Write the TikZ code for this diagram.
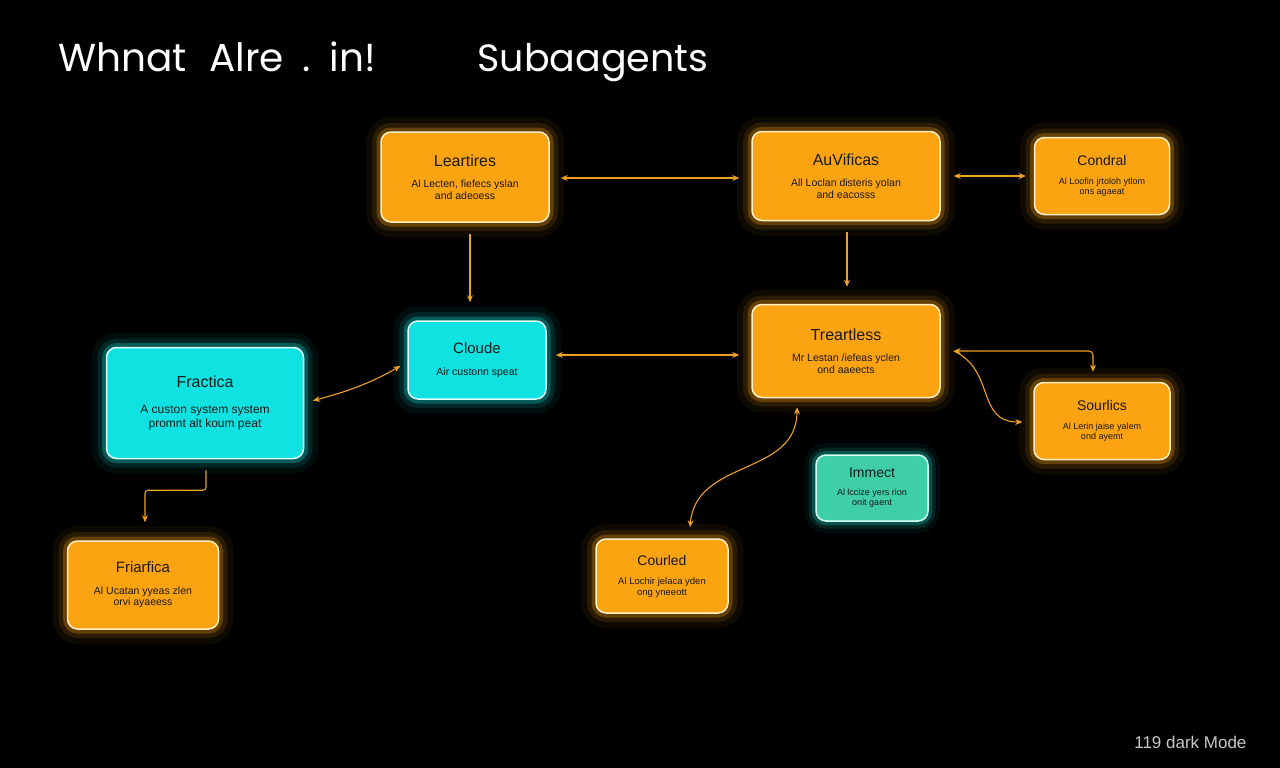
\documentclass[tikz,border=0pt]{standalone}
\usepackage{fontspec}
\setmainfont{Liberation Sans}
\newfontfamily\headfont{Poppins}
\usetikzlibrary{arrows.meta, positioning}

\definecolor{boxorange}{HTML}{FCA312}
\definecolor{rimorange}{HTML}{FFEFC6}
\definecolor{boxcyan}{HTML}{10E2E2}
\definecolor{rimcyan}{HTML}{E2FFFF}
\definecolor{boxteal}{HTML}{3ECFA8}
\definecolor{rimteal}{HTML}{D6FFF4}
\definecolor{linkorange}{HTML}{EFA020}
\definecolor{footgray}{HTML}{C8C8C8}

\tikzset{
  agent/.style={rounded corners=10pt, line width=1.5pt, align=center,
    text=black!90, inner sep=0pt},
  orangeagent/.style={agent, draw=rimorange, fill=boxorange,
    preaction={draw=boxorange, line width=30pt, opacity=0.06},
    preaction={draw=boxorange, line width=18pt, opacity=0.12},
    preaction={draw=boxorange, line width=9pt, opacity=0.28}},
  cyanagent/.style={agent, draw=rimcyan, fill=boxcyan,
    preaction={draw=boxcyan, line width=30pt, opacity=0.06},
    preaction={draw=boxcyan, line width=18pt, opacity=0.12},
    preaction={draw=boxcyan, line width=9pt, opacity=0.28}},
  tealagent/.style={agent, draw=rimteal, fill=boxteal,
    preaction={draw=boxcyan!70!boxteal, line width=24pt, opacity=0.06},
    preaction={draw=boxcyan!70!boxteal, line width=15pt, opacity=0.12},
    preaction={draw=boxcyan!70!boxteal, line width=8pt, opacity=0.26}},
  link/.style={draw=linkorange, line width=1.1pt,
    arrows={Stealth[length=7pt,width=6pt]-Stealth[length=7pt,width=6pt]}},
  linkto/.style={draw=linkorange, line width=1.1pt,
    -{Stealth[length=7pt,width=6pt]}}
}

% title line and description lines of a box
\newcommand{\agentname}[2]{{\fontsize{#1}{#1}\selectfont #2}}

\begin{document}
\begin{tikzpicture}[x=1pt, y=-1pt]
% black page
\fill[black] (0,0) rectangle (1280,768);
\useasboundingbox (0,0) rectangle (1280,768);

% heading
\node[anchor=base west, text=white, font=\headfont\fontsize{39}{41}\selectfont]
  (heading) at (55,72) {Whnat\hspace{12pt} Alre\hspace{8pt} .\hspace{5pt} in!};
\node[anchor=base west, text=white, font=\headfont\fontsize{38}{40}\selectfont]
  (headsub) at (474,72) {Subaagents};

% top row
\node[orangeagent, minimum width=168pt, minimum height=90pt,
  font=\fontsize{10.5}{11.5}\selectfont] (leartires) at (465,177)
  {\agentname{16}{Leartires}\\[10pt]Al Lecten, fiefecs yslan\\and adeoess};
\node[orangeagent, minimum width=188pt, minimum height=89pt,
  font=\fontsize{10.5}{11.5}\selectfont] (auvificas) at (846,176)
  {\agentname{16}{AuVificas}\\[10pt]All Loclan disteris yolan\\and eacosss};
\node[orangeagent, minimum width=135pt, minimum height=77pt,
  font=\fontsize{9}{10}\selectfont] (condral) at (1102,176)
  {\agentname{14}{Condral}\\[9pt]Al Loofin jrtoloh ytlom\\ons agaeat};

% middle row
\node[cyanagent, minimum width=138pt, minimum height=78pt,
  font=\fontsize{10.5}{11.5}\selectfont] (cloude) at (477,360)
  {\agentname{15}{Cloude}\\[10pt]Air custonn speat};
\node[cyanagent, minimum width=197pt, minimum height=111pt,
  font=\fontsize{12}{14}\selectfont] (fractica) at (205,403)
  {\agentname{16}{Fractica}\\[12pt]A custon system system\\promnt alt koum peat};
\node[orangeagent, minimum width=188pt, minimum height=93pt,
  font=\fontsize{10.5}{11.5}\selectfont] (treartless) at (846,351)
  {\agentname{16}{Treartless}\\[10pt]Mr Lestan /iefeas yclen\\ond aaeects};
\node[orangeagent, minimum width=136pt, minimum height=77pt,
  font=\fontsize{9}{10}\selectfont] (sourlics) at (1102,421)
  {\agentname{14}{Sourlics}\\[9pt]Al Lerin jaise yalem\\ond ayemt};

% bottom row
\node[tealagent, minimum width=112pt, minimum height=66pt,
  font=\fontsize{9}{10}\selectfont] (immect) at (872,488)
  {\agentname{14}{Immect}\\[8pt]Al lccize yers rion\\onit gaent};
\node[orangeagent, minimum width=132pt, minimum height=74pt,
  font=\fontsize{9.5}{10.5}\selectfont] (courled) at (662,576)
  {\agentname{14}{Courled}\\[9pt]Al Lochir jelaca yden\\ong yneeott};
\node[orangeagent, minimum width=151pt, minimum height=88pt,
  font=\fontsize{10.5}{11.5}\selectfont] (friarfica) at (143,585)
  {\agentname{15}{Friarfica}\\[10pt]Al Ucatan yyeas zlen\\orvi ayaeess};

% connectors
\draw[link, shorten <=11pt, shorten >=12pt]
  ([yshift=-1pt]leartires.east) -- ([yshift=-1pt]leartires.east -| auvificas.west);
\draw[link, shorten <=13pt, shorten >=8pt]
  (auvificas.east) -- (auvificas.east -| condral.west);
\draw[linkto, shorten <=11pt, shorten >=18pt]
  ([xshift=5pt]leartires.south) -- ([xshift=5pt]leartires.south |- cloude.north);
\draw[linkto, shorten <=11pt, shorten >=17pt]
  ([xshift=1pt]auvificas.south) -- ([xshift=1pt]auvificas.south |- treartless.north);
\draw[link, shorten <=9pt, shorten >=12pt]
  ([yshift=5pt]cloude.east) -- ([yshift=5pt]cloude.east -| treartless.west);
\draw[link, shorten <=9pt, shorten >=8pt]
  (fractica.east) to[out=15, in=-150] ([yshift=-2pt]cloude.west);
\draw[linkto, rounded corners=3pt]
  ([xshift=1pt, yshift=-11pt]fractica.south) -- ++(0,20)
  -| ([xshift=2pt, yshift=18pt]friarfica.north);
\draw[link, rounded corners=4pt]
  ([xshift=13pt]treartless.east) -| ([xshift=-9pt, yshift=10pt]sourlics.north);
\draw[linkto]
  ([xshift=13pt]treartless.east) to[out=-25, in=180, looseness=1.2]
  ([xshift=-11pt, yshift=-1pt]sourlics.west);
\draw[link]
  ([xshift=28pt, yshift=11pt]courled.north) to[out=85, in=-90, looseness=1.1]
  ([xshift=-49pt, yshift=-9pt]treartless.south);

% footer
\node[anchor=base east, text=footgray, font=\fontsize{17}{19}\selectfont]
  (footer) at (1250,748) {119 dark Mode};
\end{tikzpicture}
\end{document}
